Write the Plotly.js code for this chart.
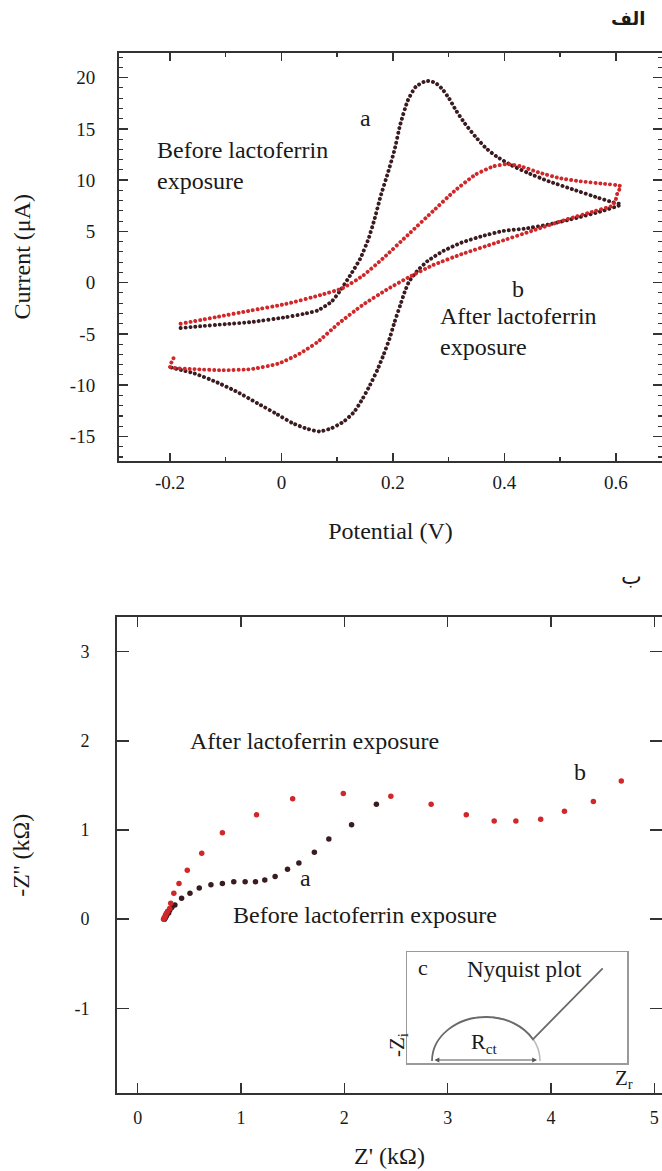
<!DOCTYPE html>
<html>
<head>
<meta charset="utf-8">
<script src="https://cdn.plot.ly/plotly-3.0.1.min.js"></script>
<style>
html,body{margin:0;padding:0;background:#fff;}
#chart{width:662px;height:1171px;}
.subplot.xy .scatterlayer path.js-line{stroke-linecap:round !important;}
</style>
</head>
<body>
<div id="chart"></div>
<script>
// ---- Cyclic voltammetry (panel الف) ----
const cvBefore_V = [-0.181,-0.15,-0.10,-0.055,0.008,0.04,0.065,0.09,0.1055,0.123,0.141,0.156,0.167,0.178,0.191,0.203,0.213,0.227,0.241,0.26,0.276,0.288,0.301,0.313,0.329,0.348,0.367,0.386,0.411,0.443,0.48,0.524,0.569,0.594,0.609,
  0.575,0.531,0.48,0.436,0.398,0.361,0.323,0.291,0.262,0.243,0.229,0.221,0.213,0.203,0.194,0.183,0.172,0.159,0.146,0.131,0.112,0.09,0.068,0.046,0.02,-0.011,-0.043,-0.08,-0.118,-0.156,-0.203];
const cvBefore_I = [-4.43,-4.28,-4.05,-3.85,-3.37,-3.05,-2.72,-1.85,-0.78,0.67,2.29,4.23,6.17,8.43,10.69,12.95,15.38,17.8,19.1,19.68,19.5,18.93,17.96,16.83,15.54,14.25,13.12,12.31,11.5,10.69,9.88,9.08,8.27,7.85,7.62,
  6.97,6.33,5.68,5.26,5.04,4.55,3.9,3.1,2.1,1.1,0.1,-0.94,-2.24,-3.85,-5.47,-7.08,-8.54,-9.99,-11.29,-12.58,-13.55,-14.2,-14.52,-14.26,-13.71,-12.74,-11.77,-10.64,-9.67,-8.86,-8.22];
const cvAfter_V = [-0.181,-0.118,-0.055,0.008,0.071,0.109,0.146,0.184,0.228,0.272,0.31,0.348,0.38,0.405,0.43,0.461,0.499,0.537,0.575,0.609,0.603,0.600,0.594,
  0.562,0.512,0.449,0.386,0.323,0.272,0.228,0.191,0.146,0.102,0.065,0.033,-0.005,-0.055,-0.106,-0.156,-0.2,-0.194,-0.19];
const cvAfter_I = [-4.01,-3.37,-2.72,-2.08,-1.2,-0.56,0.67,2.45,4.71,6.97,8.91,10.53,11.34,11.56,11.34,10.76,10.2,9.88,9.66,9.4,8.75,8.1,7.52,
  6.97,6.17,5.04,3.9,2.77,1.71,0.51,-0.62,-2.17,-4.01,-5.79,-6.92,-7.89,-8.44,-8.54,-8.44,-8.22,-7.41,-7.02];
const cvXTicks = [-0.2, 0, 0.2, 0.4, 0.6];
const cvXTickText = ['-0.2', '0', '0.2', '0.4', '0.6'];
const cvYTicks = [-15, -10, -5, 0, 5, 10, 15, 20];
const cvYTickText = ['-15', '-10', '-5', '0', '5', '10', '15', '20'];

// ---- Impedance (panel ب) ----
const eisBefore_Zr = [0.26,0.27,0.28,0.30,0.31,0.33,0.36,0.425,0.506,0.596,0.709,0.82,0.93,1.04,1.14,1.23,1.33,1.45,1.56,1.71,1.85,2.07,2.31];
const eisBefore_Zi = [0.0,0.02,0.04,0.07,0.10,0.13,0.16,0.235,0.29,0.35,0.385,0.40,0.42,0.42,0.42,0.44,0.48,0.56,0.63,0.75,0.90,1.06,1.29];
const eisAfter_Zr = [0.25,0.255,0.26,0.265,0.27,0.28,0.29,0.31,0.32,0.35,0.40,0.48,0.62,0.82,1.15,1.50,1.99,2.45,2.84,3.18,3.45,3.66,3.90,4.13,4.41,4.68];
const eisAfter_Zi = [0.0,0.01,0.02,0.03,0.05,0.07,0.09,0.12,0.18,0.29,0.40,0.55,0.74,0.97,1.17,1.35,1.41,1.38,1.29,1.17,1.10,1.10,1.12,1.21,1.32,1.55];
const eisXTicks = [0, 1, 2, 3, 4, 5];
const eisXTickText = ['0', '1', '2', '3', '4', '5'];
const eisYTicks = [-1, 0, 1, 2, 3];
const eisYTickText = ['-1', '0', '1', '2', '3'];

const W = 662, H = 1171;
const px = v => v / W;
const py = v => 1 - v / H;
const FONT = 'Liberation Serif, Times New Roman, serif';
const ARFONT = 'DejaVu Sans, sans-serif';
const TXT = '#1a1a1a';
const AX = '#333333';
const RED = '#d0282a';
const DARK = '#3a1c20';

const traces = [
  {x: cvBefore_V, y: cvBefore_I, xaxis: 'x', yaxis: 'y', mode: 'lines', hoverinfo: 'skip',
   line: {color: DARK, width: 3.9, dash: '0.1px,4.8px', shape: 'spline', smoothing: 0.5}},
  {x: cvAfter_V, y: cvAfter_I, xaxis: 'x', yaxis: 'y', mode: 'lines', hoverinfo: 'skip',
   line: {color: RED, width: 3.9, dash: '0.1px,4.8px', shape: 'spline', smoothing: 0.5}},
  {x: eisBefore_Zr, y: eisBefore_Zi, xaxis: 'x2', yaxis: 'y2', mode: 'markers',
   marker: {color: DARK, size: 5.5}},
  {x: eisAfter_Zr, y: eisAfter_Zi, xaxis: 'x2', yaxis: 'y2', mode: 'markers',
   marker: {color: RED, size: 5.5}}
];

const baseAxis = {
  showgrid: false, zeroline: false, showline: true, linecolor: AX, linewidth: 2,
  mirror: 'ticks', ticks: 'inside', tickcolor: AX, tickwidth: 1.5,
  tickfont: {family: FONT, size: 19, color: TXT}, automargin: false, fixedrange: true
};

function note(x, y, text, opts) {
  return Object.assign({xref: 'paper', yref: 'paper', x: px(x), y: py(y), text: text, showarrow: false,
    xanchor: 'center', yanchor: 'middle', font: {family: FONT, size: 24, color: TXT}}, opts || {});
}

const layout = {
  width: W, height: H, showlegend: false,
  margin: {l: 0, r: 0, t: 0, b: 0, pad: 0},
  paper_bgcolor: '#fff', plot_bgcolor: '#fff',
  font: {family: FONT, color: TXT},
  xaxis: Object.assign({}, baseAxis, {
    domain: [px(119), 1], anchor: 'y', range: [-0.2915, 0.683],
    tickmode: 'array', tickvals: cvXTicks, ticktext: cvXTickText, ticklen: 8,
    ticklabelstandoff: 3,
    minor: {tickmode: 'linear', tick0: 0, dtick: 0.1, ticks: 'inside', ticklen: 4, tickcolor: AX, tickwidth: 1.5},
    title: {text: 'Potential (V)', font: {family: FONT, size: 24, color: TXT}, standoff: 30}
  }),
  yaxis: Object.assign({}, baseAxis, {
    domain: [py(461), py(52.5)], anchor: 'x', range: [-17.4, 22.45],
    tickmode: 'array', tickvals: cvYTicks, ticktext: cvYTickText, ticklen: 9,
    ticklabelstandoff: 18,
    minor: {tickmode: 'linear', tick0: 0, dtick: 1, ticks: 'inside', ticklen: 4, tickcolor: AX, tickwidth: 1.2},
    title: {text: 'Current (μA)', font: {family: FONT, size: 24, color: TXT}, standoff: 32}
  }),
  xaxis2: Object.assign({}, baseAxis, {
    domain: [px(117), 1], anchor: 'y2', range: [-0.2, 5.074],
    tickmode: 'array', tickvals: eisXTicks, ticktext: eisXTickText, ticklen: 10,
    ticklabelstandoff: 7, tickfont: {family: FONT, size: 18, color: TXT},
    title: {text: "Z' (kΩ)", font: {family: FONT, size: 24, color: TXT}, standoff: 20}
  }),
  yaxis2: Object.assign({}, baseAxis, {
    domain: [py(1093.3), py(617.3)], anchor: 'x2', range: [-1.953, 3.386],
    tickmode: 'array', tickvals: eisYTicks, ticktext: eisYTickText, ticklen: 12,
    ticklabelstandoff: 22, tickfont: {family: FONT, size: 18, color: TXT},
    title: {text: "-Z'' (kΩ)", font: {family: FONT, size: 24, color: TXT}, standoff: 38}
  }),
  xaxis3: {domain: [px(407), px(627)], anchor: 'y3', range: [0, 220], showgrid: false, zeroline: false,
    showline: true, mirror: true, linecolor: '#9a9a9a', linewidth: 1.5, ticks: '', showticklabels: false, fixedrange: true},
  yaxis3: {domain: [py(1063), py(952)], anchor: 'x3', range: [0, 111], showgrid: false, zeroline: false,
    showline: true, mirror: true, linecolor: '#9a9a9a', linewidth: 1.5, ticks: '', showticklabels: false, fixedrange: true},
  shapes: [
    {type: 'path', xref: 'x3', yref: 'y3', path: 'M 79,46 C 108.8,46 133,26.3 133,2',
     line: {color: '#bdbdbd', width: 1.6}},
    {type: 'path', xref: 'x3', yref: 'y3',
     path: 'M 25,2 C 25,26.3 49.2,46 79,46 C 99.1,46 116.65,37 125.9,23.7 L 195.7,94.7',
     line: {color: '#6a6a6a', width: 1.8}}
  ],
  annotations: [
    note(628, 19, '<b>الف</b>', {font: {family: ARFONT, size: 18, color: TXT}}),
    note(631, 576, 'ب', {font: {family: ARFONT, size: 22, color: TXT}}),
    // panel الف labels
    note(365, 118, 'a'),
    note(155, 165.5, 'Before lactoferrin<br>exposure', {xanchor: 'left', align: 'left'}),
    note(518, 289, 'b'),
    note(438, 331, 'After lactoferrin<br>exposure', {xanchor: 'left', align: 'left'}),
    // panel ب labels
    note(188, 741, 'After lactoferrin exposure', {xanchor: 'left'}),
    note(580, 772, 'b'),
    note(305, 878, 'a'),
    note(231, 915, 'Before lactoferrin exposure', {xanchor: 'left'}),
    // inset
    note(423, 967, 'c', {font: {family: FONT, size: 22, color: TXT}}),
    note(465, 970, 'Nyquist plot', {xanchor: 'left', font: {family: FONT, size: 23, color: TXT}}),
    note(485, 1043, 'R<sub>ct</sub>', {font: {family: FONT, size: 22, color: TXT}}),
    note(398, 1045, '-Z<sub>i</sub>', {textangle: -90, font: {family: FONT, size: 21, color: TXT}}),
    note(624, 1079, 'Z<sub>r</sub>', {font: {family: FONT, size: 21, color: TXT}}),
    {xref: 'x3', yref: 'y3', x: 130, y: 3, ax: 26, ay: 3, axref: 'x3', ayref: 'y3', text: '',
     showarrow: true, arrowside: 'end+start', arrowhead: 2, arrowsize: 0.8, arrowwidth: 1.2, arrowcolor: '#555'}
  ]
};

Plotly.newPlot('chart', traces, layout, {displayModeBar: false, staticPlot: true});
</script>
</body>
</html>
